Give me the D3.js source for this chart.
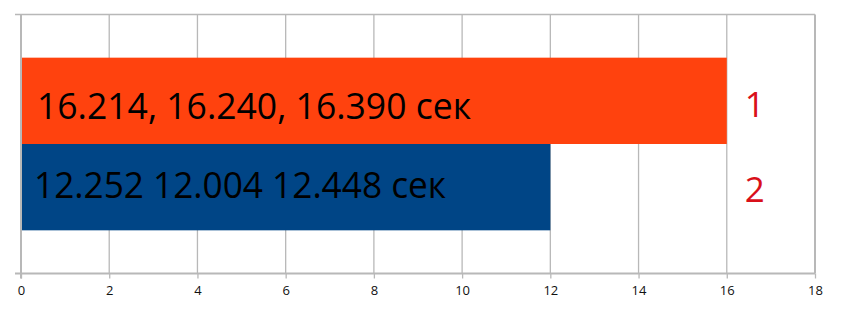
<!DOCTYPE html>
<html>
<head>
<meta charset="utf-8">
<script src="https://cdn.jsdelivr.net/npm/d3@7"></script>
<style>
  body { margin: 0; background: #fff; }
  #chart { width: 843px; height: 313px; }
</style>
</head>
<body>
<div id="chart"></div>
<script>
// chart data
var seriesNames = ['1', '2'];
var seriesValues = [16, 12];
var barLabels = ['16.214, 16.240, 16.390 сек', '12.252 12.004 12.448 сек'];
var seriesColors = ['#ff420e', '#004586'];
var xTicks = [0, 2, 4, 6, 8, 10, 12, 14, 16, 18];

var width = 843, height = 313;

var plot = { left: 21, right: 815, top: 14.5, bottom: 273.5 };

var svg = d3.select('#chart')
    .append('svg')
    .attr('width', width)
    .attr('height', height);

var x = d3.scaleLinear()
    .domain([0, 18])
    .range([plot.left, plot.right]);

// one category, two series side by side
var yOuter = d3.scaleBand()
    .domain(['c'])
    .range([plot.top, plot.bottom])
    .paddingOuter(0.25)
    .paddingInner(0);

var y = d3.scaleBand()
    .domain(seriesNames)
    .range([yOuter('c'), yOuter('c') + yOuter.bandwidth()]);

var gridColor = '#b8b8b8';

// grid lines
svg.append('g')
    .selectAll('line')
    .data(xTicks.slice(1))
    .enter()
    .append('line')
    .attr('x1', function(d) { return x(d); })
    .attr('x2', function(d) { return x(d); })
    .attr('y1', plot.top)
    .attr('y2', plot.bottom)
    .attr('stroke', gridColor)
    .attr('stroke-width', function(d) { return d == 18 ? 2 : 1.3; });

// top line (category axis tick)
svg.append('line')
    .attr('x1', 15).attr('x2', plot.right)
    .attr('y1', plot.top).attr('y2', plot.top)
    .attr('stroke', gridColor)
    .attr('stroke-width', 1.3);

// bars
svg.append('g')
    .selectAll('rect')
    .data(seriesNames)
    .enter()
    .append('rect')
    .attr('x', x(0))
    .attr('y', function(d) { return y(d); })
    .attr('width', function(d, i) { return x(seriesValues[i]) - x(0); })
    .attr('height', y.bandwidth())
    .attr('fill', function(d, i) { return seriesColors[i]; });

// x axis
var xAxis = d3.axisBottom(x)
    .tickValues(xTicks)
    .tickSize(5)
    .tickPadding(7)
    .tickFormat(d3.format('d'));

var gx = svg.append('g')
    .attr('transform', 'translate(0,' + plot.bottom + ')')
    .call(xAxis);

gx.select('.domain').remove();
gx.selectAll('.tick line')
    .attr('stroke', gridColor)
    .attr('stroke-width', 1.3);
gx.selectAll('.tick text')
    .attr('fill', '#111')
    .style('font-family', 'Open Sans, sans-serif')
    .style('font-size', '13px');

gx.append('line')
    .attr('x1', 15).attr('x2', plot.right)
    .attr('y1', 0).attr('y2', 0)
    .attr('stroke', gridColor)
    .attr('stroke-width', 2);

// left axis line
svg.append('line')
    .attr('x1', plot.left).attr('x2', plot.left)
    .attr('y1', plot.top).attr('y2', plot.bottom + 5)
    .attr('stroke', gridColor)
    .attr('stroke-width', 2);

// labels inside bars
var labelDx = [16, 13];
var labelDy = [18, 11];
var labelWidth = [434, 412];

svg.append('g')
    .selectAll('text')
    .data(barLabels)
    .enter()
    .append('text')
    .attr('x', function(d, i) { return x(0) + labelDx[i]; })
    .attr('y', function(d, i) { return y(seriesNames[i]) + y.bandwidth() / 2 + labelDy[i]; })
    .attr('textLength', function(d, i) { return labelWidth[i]; })
    .attr('lengthAdjust', 'spacingAndGlyphs')
    .attr('fill', '#000')
    .style('font-family', 'Open Sans, sans-serif')
    .style('font-size', '36px')
    .text(function(d) { return d; });

// series names on the right
var nameDy = [16, 15];
svg.append('g')
    .selectAll('text')
    .data(seriesNames)
    .enter()
    .append('text')
    .attr('x', x(16) + 28)
    .attr('y', function(d, i) { return y(d) + y.bandwidth() / 2 + nameDy[i]; })
    .attr('text-anchor', 'middle')
    .attr('fill', '#d9101a')
    .style('font-family', 'Open Sans, sans-serif')
    .style('font-size', '35px')
    .text(function(d) { return d; });
</script>
</body>
</html>
